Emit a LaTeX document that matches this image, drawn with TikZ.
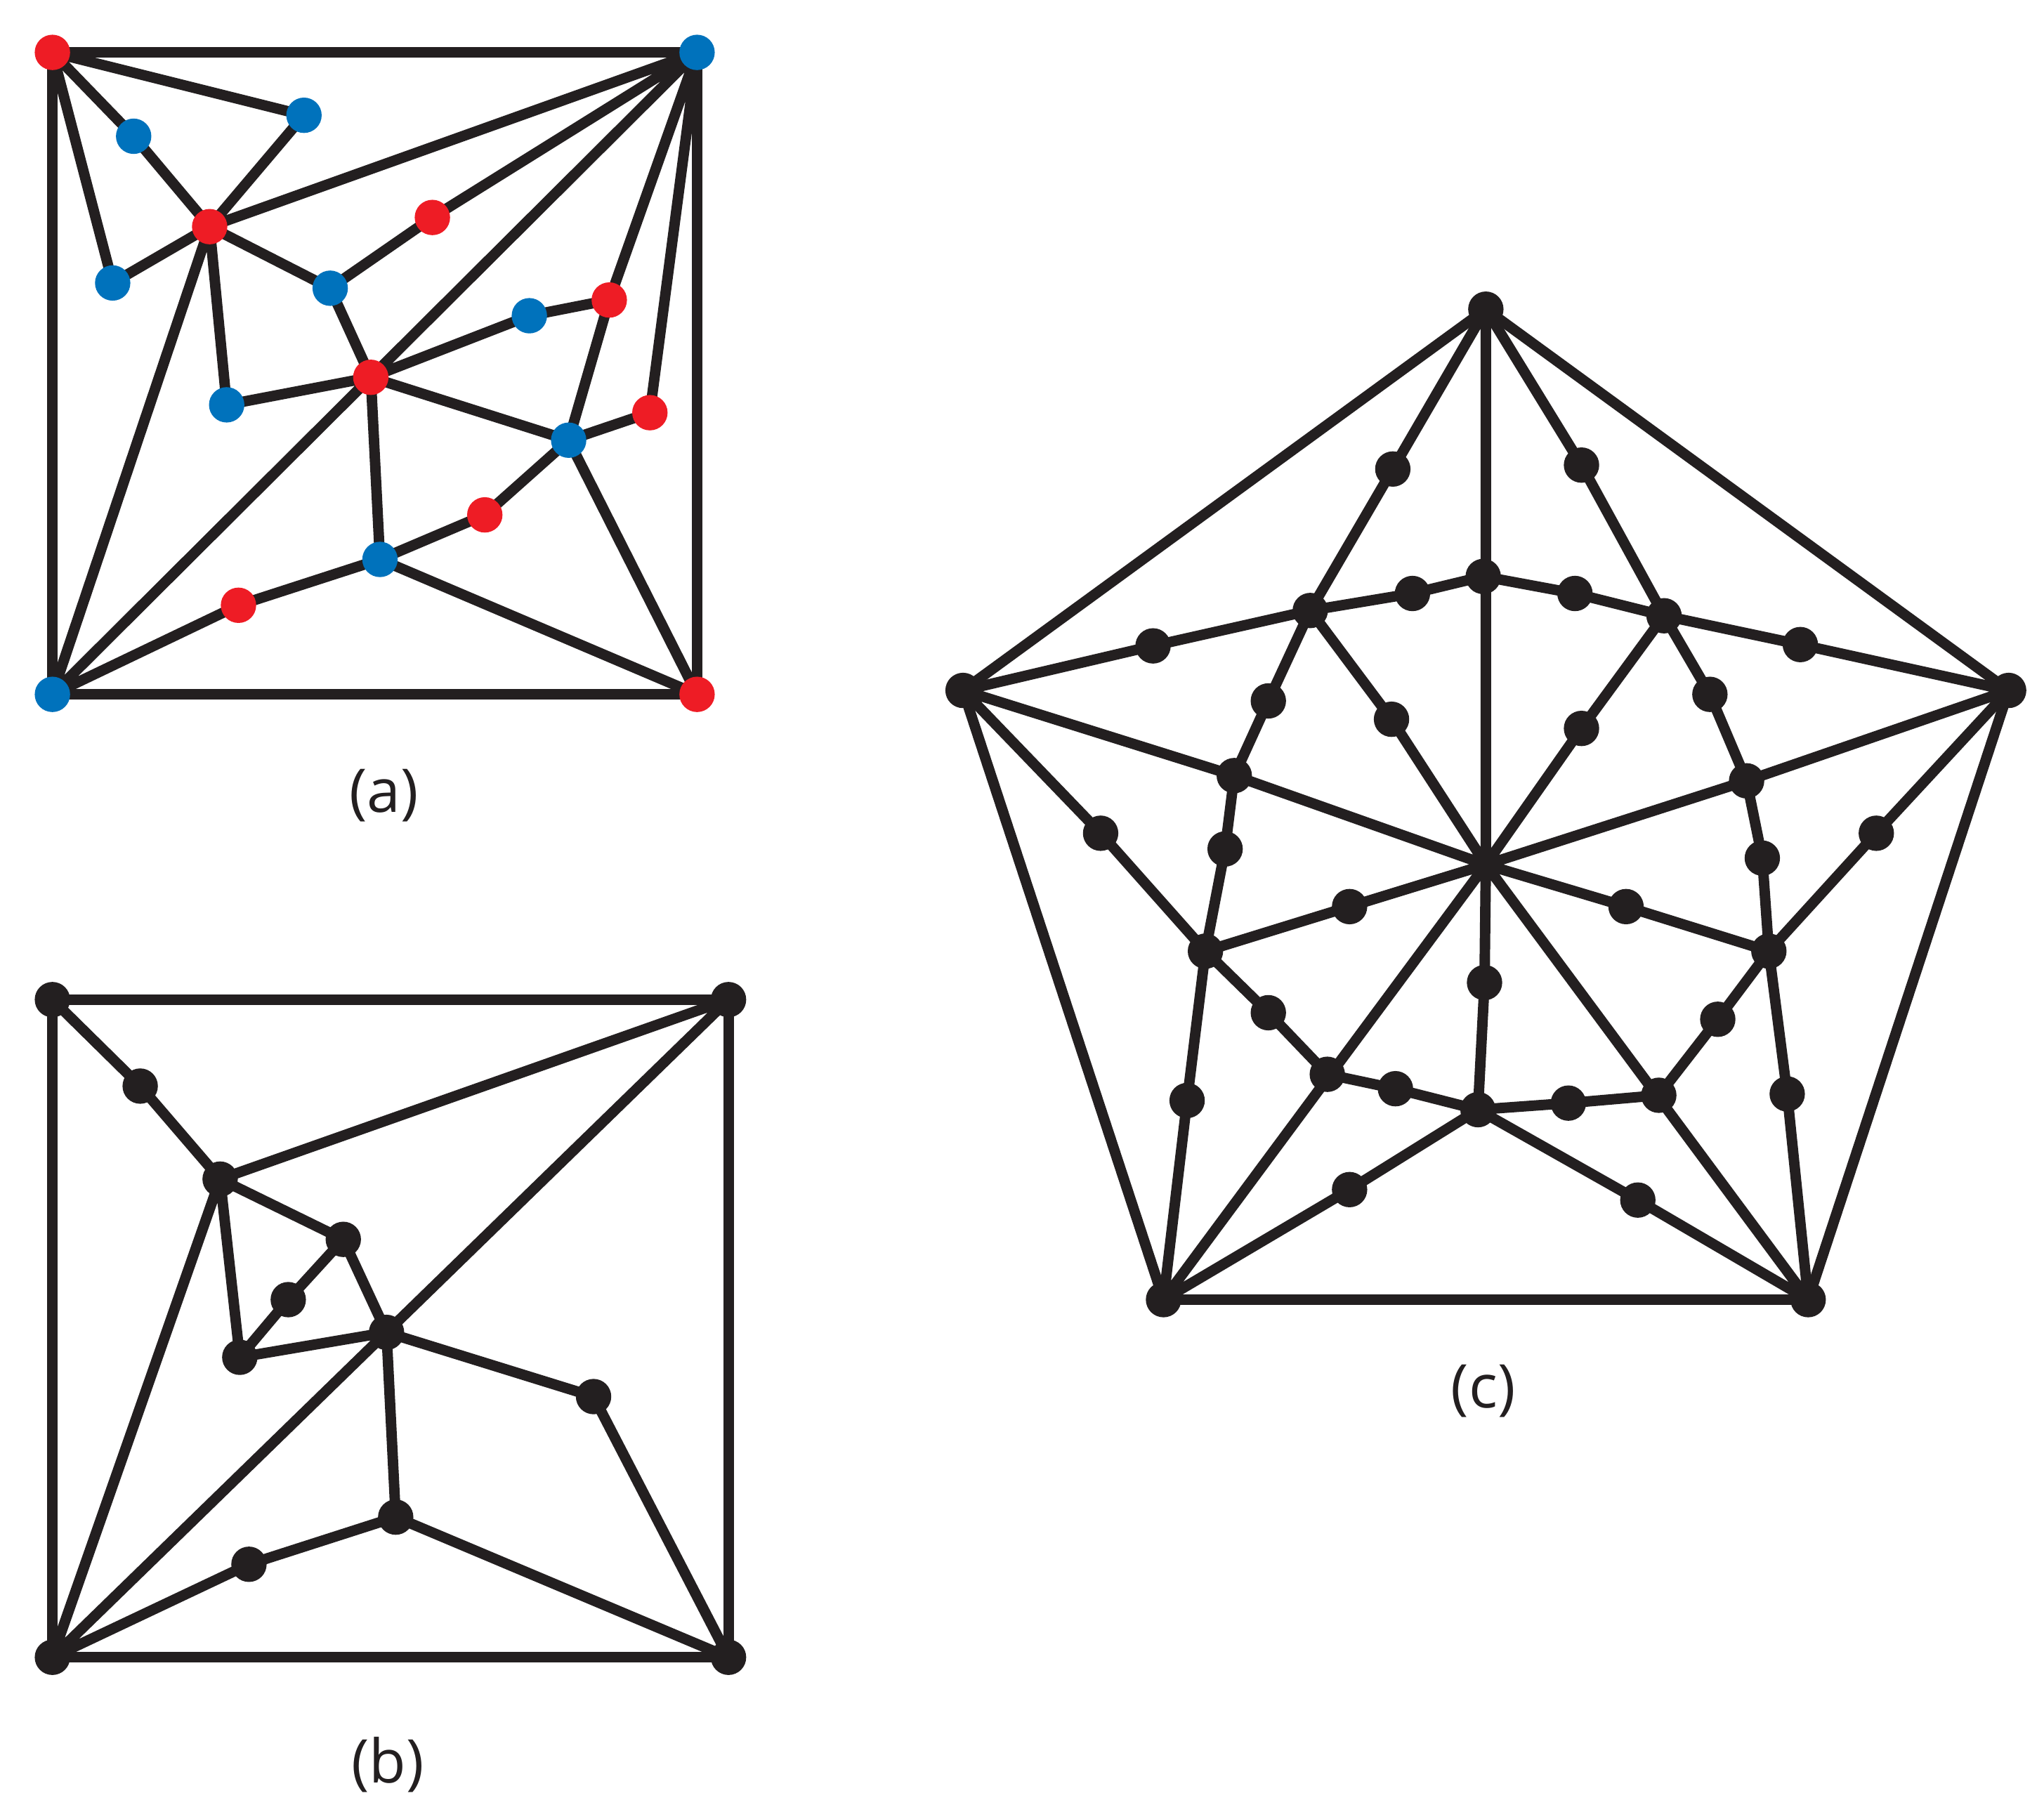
\documentclass[tikz,border=0pt]{standalone}
\usepackage{fontspec}
\setmainfont{Open Sans}
\definecolor{ink}{HTML}{231F20}
\definecolor{rd}{HTML}{EE1C25}
\definecolor{bl}{HTML}{0072BC}
\begin{document}
\begin{tikzpicture}[x=1pt,y=-1pt,
  edge/.style={draw=ink,line width=8pt},
  dot/.style={circle,fill=#1,inner sep=0pt,minimum size=27pt},
  lab/.style={font=\fontsize{46}{50}\selectfont,text=ink}]
\useasboundingbox (0,0) rectangle (1560,1383);
% ---------- (a)
\foreach \n/\x/\y in {A1/40/40,A2/532/40,A3/40/530,A4/532/530,p1/102/104,p2/232/88,c1/160/173,p3/86/216,p4/330/166,p5/252/220,c2/283/288,p6/173/309,p7/404/241,p8/465/229,p9/496/315,c3/434/336,p10/370/393,c4/290/427,p11/182/462}
  \coordinate (\n) at (\x,\y);
\draw[edge] (A1)--(A2)--(A4)--(A3)--cycle;
\draw[edge] (A1)--(p2)--(c1) (A1)--(p1)--(c1) (A1)--(p3)--(c1) (c1)--(A2) (c1)--(p5)--(p4)--(A2)
 (c1)--(p6)--(c2) (c1)--(A3) (p5)--(c2) (A2)--(A3) (c2)--(p7)--(p8)--(A2) (p8)--(c3) (c2)--(c3)--(p9)--(A2)
 (c3)--(A4) (c3)--(p10)--(c4) (c2)--(c4)--(p11)--(A3) (c4)--(A4);
\foreach \n in {A1,c1,p4,c2,p8,p9,p10,p11,A4} \node[dot=rd] (d\n) at (\n) {};
\foreach \n in {A2,A3,p1,p2,p3,p5,p6,p7,c3,c4} \node[dot=bl] (d\n) at (\n) {};
\node[lab] (la) at (293,607) {(a)};
% ---------- (b)
\foreach \n/\x/\y in {B1/40/763,B2/556/763,B3/40/1265,B4/556/1265,q1/107/829,e1/168/900,q2/262/946,q3/220/992,q4/183/1036,e2/295/1017,q5/453/1066,e3/302/1158,q6/190/1194}
  \coordinate (\n) at (\x,\y);
\draw[edge] (B1)--(B2)--(B4)--(B3)--cycle;
\draw[edge] (B1)--(q1)--(e1) (e1)--(B2) (e1)--(q2)--(q3)--(q4) (e1)--(q4) (e1)--(B3) (q4)--(e2) (q2)--(e2)
 (B2)--(B3) (e2)--(q5)--(B4) (e2)--(e3)--(q6)--(B3) (e3)--(B4);
\foreach \n in {B1,B2,B3,B4,q1,e1,q2,q3,q4,e2,q5,e3,q6} \node[dot=ink] (d\n) at (\n) {};
\node[lab] (lb) at (296,1347) {(b)};
% ---------- (c)
\foreach \n/\x/\y in {T/1134/236,L/735/527,R/1533/527,BL/888/992,BR/1380/992,C/1134/660,
 i1/1000/466,i2/1132/440,i3/1270/470,i4/942/592,i5/1333/596,i6/920/726,i7/1350/726,i8/1013/820,i9/1128/847,i10/1266/836,
 m1/1063/358,m2/968/535,m3/935/648,m4/906/840,m5/1207/355,m6/1305/530,m7/1345/655,m8/1364/835,
 m9/880/493,m10/1078/453,m11/1202/453,m12/1374/492,m13/840/636,m14/968/773,m15/1065/831,m16/1197/842,
 m17/1311/778,m18/1432/636,m19/1062/549,m20/1207/556,m21/1030/692,m22/1241/692,m23/1133/750,m24/1030/908,m25/1250/916}
  \coordinate (\n) at (\x,\y);
\draw[edge] (T)--(L)--(BL)--(BR)--(R)--cycle;
\draw[edge] (T)--(C) (T)--(m1)--(i1)--(m2)--(i4)--(m3)--(i6)--(m4)--(BL)
 (T)--(m5)--(i3)--(m6)--(i5)--(m7)--(i7)--(m8)--(BR)
 (L)--(m9)--(i1)--(m10)--(i2)--(m11)--(i3)--(m12)--(R)
 (L)--(i4)--(C) (R)--(i5)--(C)
 (L)--(m13)--(i6)--(m14)--(i8)--(m15)--(i9)--(m16)--(i10)--(m17)--(i7)--(m18)--(R)
 (i1)--(m19)--(C) (i3)--(m20)--(C) (i6)--(m21)--(C) (i7)--(m22)--(C)
 (BL)--(C) (BR)--(C) (C)--(m23)--(i9) (BL)--(m24)--(i9)--(m25)--(BR);
\foreach \n in {T,L,R,BL,BR,i1,i2,i3,i4,i5,i6,i7,i8,i9,i10,m1,m2,m3,m4,m5,m6,m7,m8,m9,m10,m11,m12,m13,m14,m15,m16,m17,m18,m19,m20,m21,m22,m23,m24,m25}
  \node[dot=ink] (d\n) at (\n) {};
\node[lab] (lc) at (1132,1062) {(c)};
\end{tikzpicture}
\end{document}
